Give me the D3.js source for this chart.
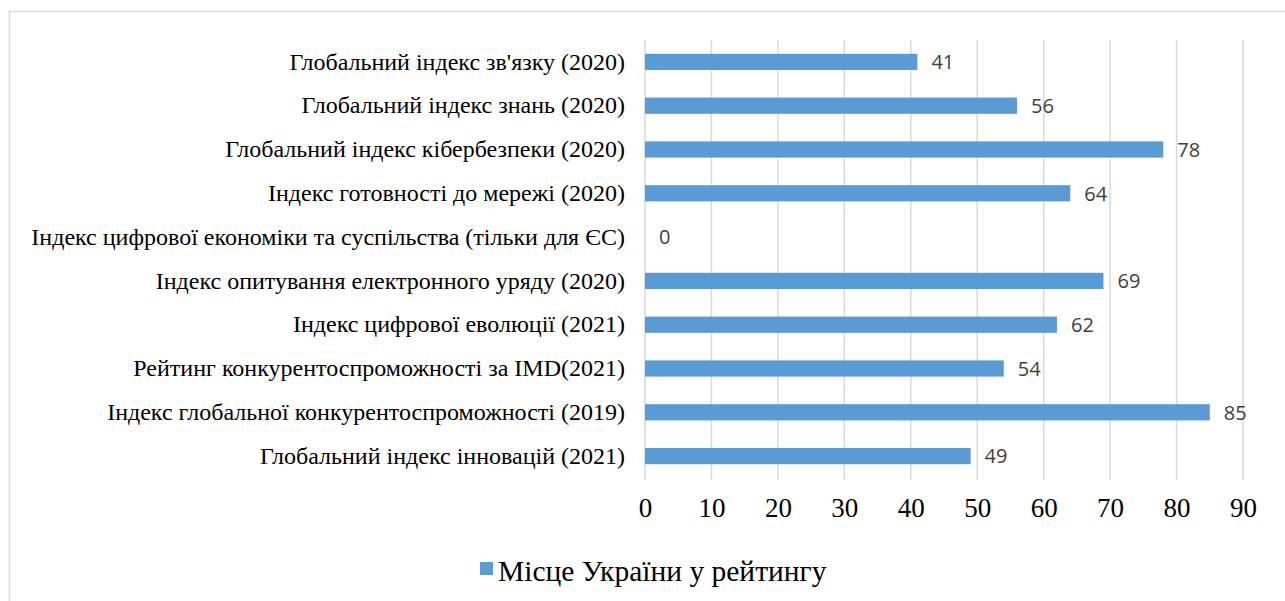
<!DOCTYPE html>
<html>
<head>
<meta charset="utf-8">
<script src="https://cdn.jsdelivr.net/npm/d3@7"></script>
<style>
  body { margin: 0; background: #fff; }
</style>
</head>
<body>
<svg id="chart" width="1285" height="601"></svg>
<script>
// categories, top to bottom
const categories = [
  "Глобальний індекс зв'язку (2020)",
  "Глобальний індекс знань (2020)",
  "Глобальний індекс кібербезпеки (2020)",
  "Індекс готовності до мережі (2020)",
  "Індекс цифрової економіки та суспільства (тільки для ЄС)",
  "Індекс опитування електронного уряду (2020)",
  "Індекс цифрової еволюції (2021)",
  "Рейтинг конкурентоспроможності за IMD(2021)",
  "Індекс глобальної конкурентоспроможності (2019)",
  "Глобальний індекс інновацій (2021)"
];
const values = [41, 56, 78, 64, 0, 69, 62, 54, 85, 49];
const xTicks = [0, 10, 20, 30, 40, 50, 60, 70, 80, 90];
const seriesName = 'Місце України у рейтингу';

const serif = '"Liberation Serif", "Times New Roman", serif';
const svg = d3.select('#chart');

// outer frame
svg.append('rect')
  .attr('x', 9.5).attr('y', 11.5)
  .attr('width', 1300).attr('height', 620)
  .attr('fill', 'none')
  .attr('stroke', '#d9d9d9')
  .attr('stroke-width', 1.5);

const x = d3.scaleLinear().domain([0, 90]).range([645, 1243]);
const y = d3.scaleBand().domain(categories).range([40, 478]).paddingInner(0.63).paddingOuter(0.315);

// gridlines
svg.append('g')
  .selectAll('line')
  .data(xTicks)
  .enter()
  .append('line')
  .attr('x1', d => x(d)).attr('x2', d => x(d))
  .attr('y1', 40).attr('y2', 480)
  .attr('stroke', '#d9d9d9')
  .attr('stroke-width', 1.5);

// bars
svg.append('g')
  .selectAll('rect')
  .data(values)
  .enter()
  .append('rect')
  .attr('x', x(0))
  .attr('y', (d, i) => y(categories[i]))
  .attr('width', d => x(d) - x(0))
  .attr('height', y.bandwidth())
  .attr('fill', '#5b9bd5');

// value labels
svg.append('g')
  .selectAll('text')
  .data(values)
  .enter()
  .append('text')
  .attr('x', d => x(d) + 14)
  .attr('y', (d, i) => y(categories[i]) + y.bandwidth() / 2)
  .attr('dy', '0.36em')
  .style('font-family', '"Open Sans", "Liberation Sans", sans-serif')
  .style('font-size', '20px')
  .style('fill', '#404040')
  .text(d => d);

// category axis
const yAxis = svg.append('g')
  .attr('transform', 'translate(625,0)')
  .attr('font-family', serif)
  .call(d3.axisLeft(y).tickSize(0).tickPadding(0));
yAxis.select('.domain').remove();
yAxis.selectAll('text')
  .attr('font-family', serif)
  .style('font-family', serif)
  .style('font-size', '24px')
  .style('fill', '#000');

// value axis
const xAxis = svg.append('g')
  .attr('transform', 'translate(0,498)')
  .call(d3.axisBottom(x).tickValues(xTicks).tickSize(0).tickPadding(0));
xAxis.select('.domain').remove();
xAxis.selectAll('text')
  .style('font-family', serif)
  .style('font-size', '27px')
  .style('fill', '#000');

// legend
const legend = svg.append('g').attr('transform', 'translate(480,562)');
legend.append('rect')
  .attr('width', 13).attr('height', 13)
  .attr('fill', '#5b9bd5');
legend.append('text')
  .attr('x', 18).attr('y', 19)
  .style('font-family', serif)
  .style('font-size', '29.5px')
  .style('fill', '#000')
  .text(seriesName);
</script>
</body>
</html>
